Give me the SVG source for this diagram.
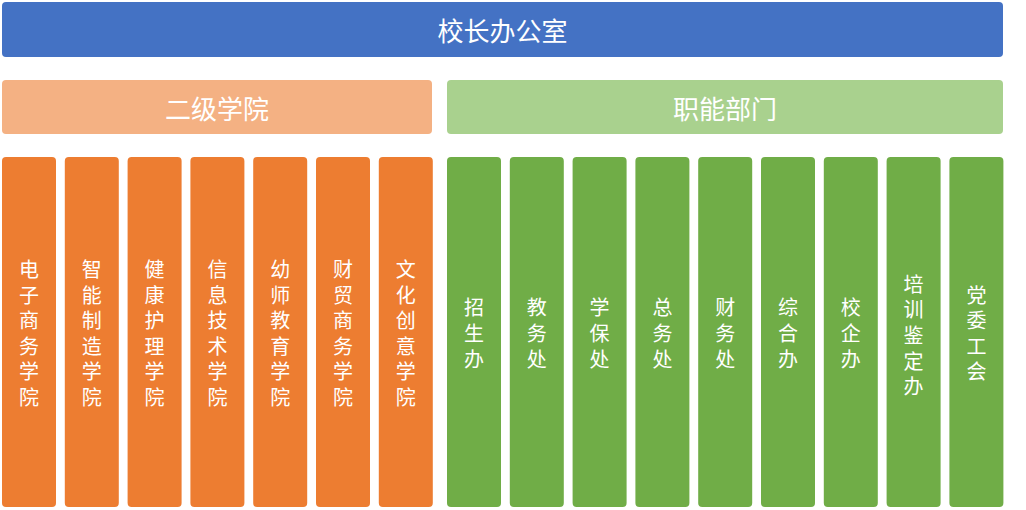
<svg xmlns="http://www.w3.org/2000/svg" width="1026" height="510" viewBox="0 0 1026 510">
<style>
text{font-family:"Microsoft YaHei","Noto Sans CJK SC","Noto Sans",sans-serif;fill:#fff;text-anchor:middle;dominant-baseline:central}
.top{fill:#4472C4}
.hO{fill:#F4B183}
.hG{fill:#A9D18E}
.cO{fill:#ED7D31}
.cG{fill:#70AD47}
.t1{font-size:26px}
.t2{font-size:26px}
.t3{font-size:20px}
</style>
<rect width="1026" height="510" fill="#fff"/>
<g id="top"><rect class="top" x="2" y="2" width="1001" height="55" rx="4"/><text class="t1" x="502.5" y="29.5">校长办公室</text></g>
<g id="h-college"><rect class="hO" x="2" y="80" width="430" height="54" rx="4"/><text class="t2" x="217" y="107">二级学院</text></g>
<g id="h-dept"><rect class="hG" x="447" y="80" width="556" height="54" rx="4"/><text class="t2" x="725" y="107">职能部门</text></g>
<g id="connectors"/>
<g id="c1"><rect class="cO" x="2" y="157" width="54" height="350" rx="4"/><text class="t3"><tspan x="29" y="268">电</tspan><tspan x="29" y="293.6">子</tspan><tspan x="29" y="319.2">商</tspan><tspan x="29" y="344.8">务</tspan><tspan x="29" y="370.4">学</tspan><tspan x="29" y="396">院</tspan></text></g>
<g id="c2"><rect class="cO" x="64.8" y="157" width="54" height="350" rx="4"/><text class="t3"><tspan x="91.8" y="268">智</tspan><tspan x="91.8" y="293.6">能</tspan><tspan x="91.8" y="319.2">制</tspan><tspan x="91.8" y="344.8">造</tspan><tspan x="91.8" y="370.4">学</tspan><tspan x="91.8" y="396">院</tspan></text></g>
<g id="c3"><rect class="cO" x="127.6" y="157" width="54" height="350" rx="4"/><text class="t3"><tspan x="154.6" y="268">健</tspan><tspan x="154.6" y="293.6">康</tspan><tspan x="154.6" y="319.2">护</tspan><tspan x="154.6" y="344.8">理</tspan><tspan x="154.6" y="370.4">学</tspan><tspan x="154.6" y="396">院</tspan></text></g>
<g id="c4"><rect class="cO" x="190.4" y="157" width="54" height="350" rx="4"/><text class="t3"><tspan x="217.4" y="268">信</tspan><tspan x="217.4" y="293.6">息</tspan><tspan x="217.4" y="319.2">技</tspan><tspan x="217.4" y="344.8">术</tspan><tspan x="217.4" y="370.4">学</tspan><tspan x="217.4" y="396">院</tspan></text></g>
<g id="c5"><rect class="cO" x="253.2" y="157" width="54" height="350" rx="4"/><text class="t3"><tspan x="280.2" y="268">幼</tspan><tspan x="280.2" y="293.6">师</tspan><tspan x="280.2" y="319.2">教</tspan><tspan x="280.2" y="344.8">育</tspan><tspan x="280.2" y="370.4">学</tspan><tspan x="280.2" y="396">院</tspan></text></g>
<g id="c6"><rect class="cO" x="316" y="157" width="54" height="350" rx="4"/><text class="t3"><tspan x="343" y="268">财</tspan><tspan x="343" y="293.6">贸</tspan><tspan x="343" y="319.2">商</tspan><tspan x="343" y="344.8">务</tspan><tspan x="343" y="370.4">学</tspan><tspan x="343" y="396">院</tspan></text></g>
<g id="c7"><rect class="cO" x="378.8" y="157" width="54" height="350" rx="4"/><text class="t3"><tspan x="405.8" y="268">文</tspan><tspan x="405.8" y="293.6">化</tspan><tspan x="405.8" y="319.2">创</tspan><tspan x="405.8" y="344.8">意</tspan><tspan x="405.8" y="370.4">学</tspan><tspan x="405.8" y="396">院</tspan></text></g>
<g id="d1"><rect class="cG" x="447" y="157" width="54" height="350" rx="4"/><text class="t3"><tspan x="474" y="306.4">招</tspan><tspan x="474" y="332">生</tspan><tspan x="474" y="357.6">办</tspan></text></g>
<g id="d2"><rect class="cG" x="509.8" y="157" width="54" height="350" rx="4"/><text class="t3"><tspan x="536.8" y="306.4">教</tspan><tspan x="536.8" y="332">务</tspan><tspan x="536.8" y="357.6">处</tspan></text></g>
<g id="d3"><rect class="cG" x="572.6" y="157" width="54" height="350" rx="4"/><text class="t3"><tspan x="599.6" y="306.4">学</tspan><tspan x="599.6" y="332">保</tspan><tspan x="599.6" y="357.6">处</tspan></text></g>
<g id="d4"><rect class="cG" x="635.4" y="157" width="54" height="350" rx="4"/><text class="t3"><tspan x="662.4" y="306.4">总</tspan><tspan x="662.4" y="332">务</tspan><tspan x="662.4" y="357.6">处</tspan></text></g>
<g id="d5"><rect class="cG" x="698.2" y="157" width="54" height="350" rx="4"/><text class="t3"><tspan x="725.2" y="306.4">财</tspan><tspan x="725.2" y="332">务</tspan><tspan x="725.2" y="357.6">处</tspan></text></g>
<g id="d6"><rect class="cG" x="761" y="157" width="54" height="350" rx="4"/><text class="t3"><tspan x="788" y="306.4">综</tspan><tspan x="788" y="332">合</tspan><tspan x="788" y="357.6">办</tspan></text></g>
<g id="d7"><rect class="cG" x="823.8" y="157" width="54" height="350" rx="4"/><text class="t3"><tspan x="850.8" y="306.4">校</tspan><tspan x="850.8" y="332">企</tspan><tspan x="850.8" y="357.6">办</tspan></text></g>
<g id="d8"><rect class="cG" x="886.6" y="157" width="54" height="350" rx="4"/><text class="t3"><tspan x="913.6" y="282.8">培</tspan><tspan x="913.6" y="308.4">训</tspan><tspan x="913.6" y="334">鉴</tspan><tspan x="913.6" y="359.6">定</tspan><tspan x="913.6" y="385.2">办</tspan></text></g>
<g id="d9"><rect class="cG" x="949.4" y="157" width="54" height="350" rx="4"/><text class="t3"><tspan x="976.4" y="293.6">党</tspan><tspan x="976.4" y="319.2">委</tspan><tspan x="976.4" y="344.8">工</tspan><tspan x="976.4" y="370.4">会</tspan></text></g>
</svg>
